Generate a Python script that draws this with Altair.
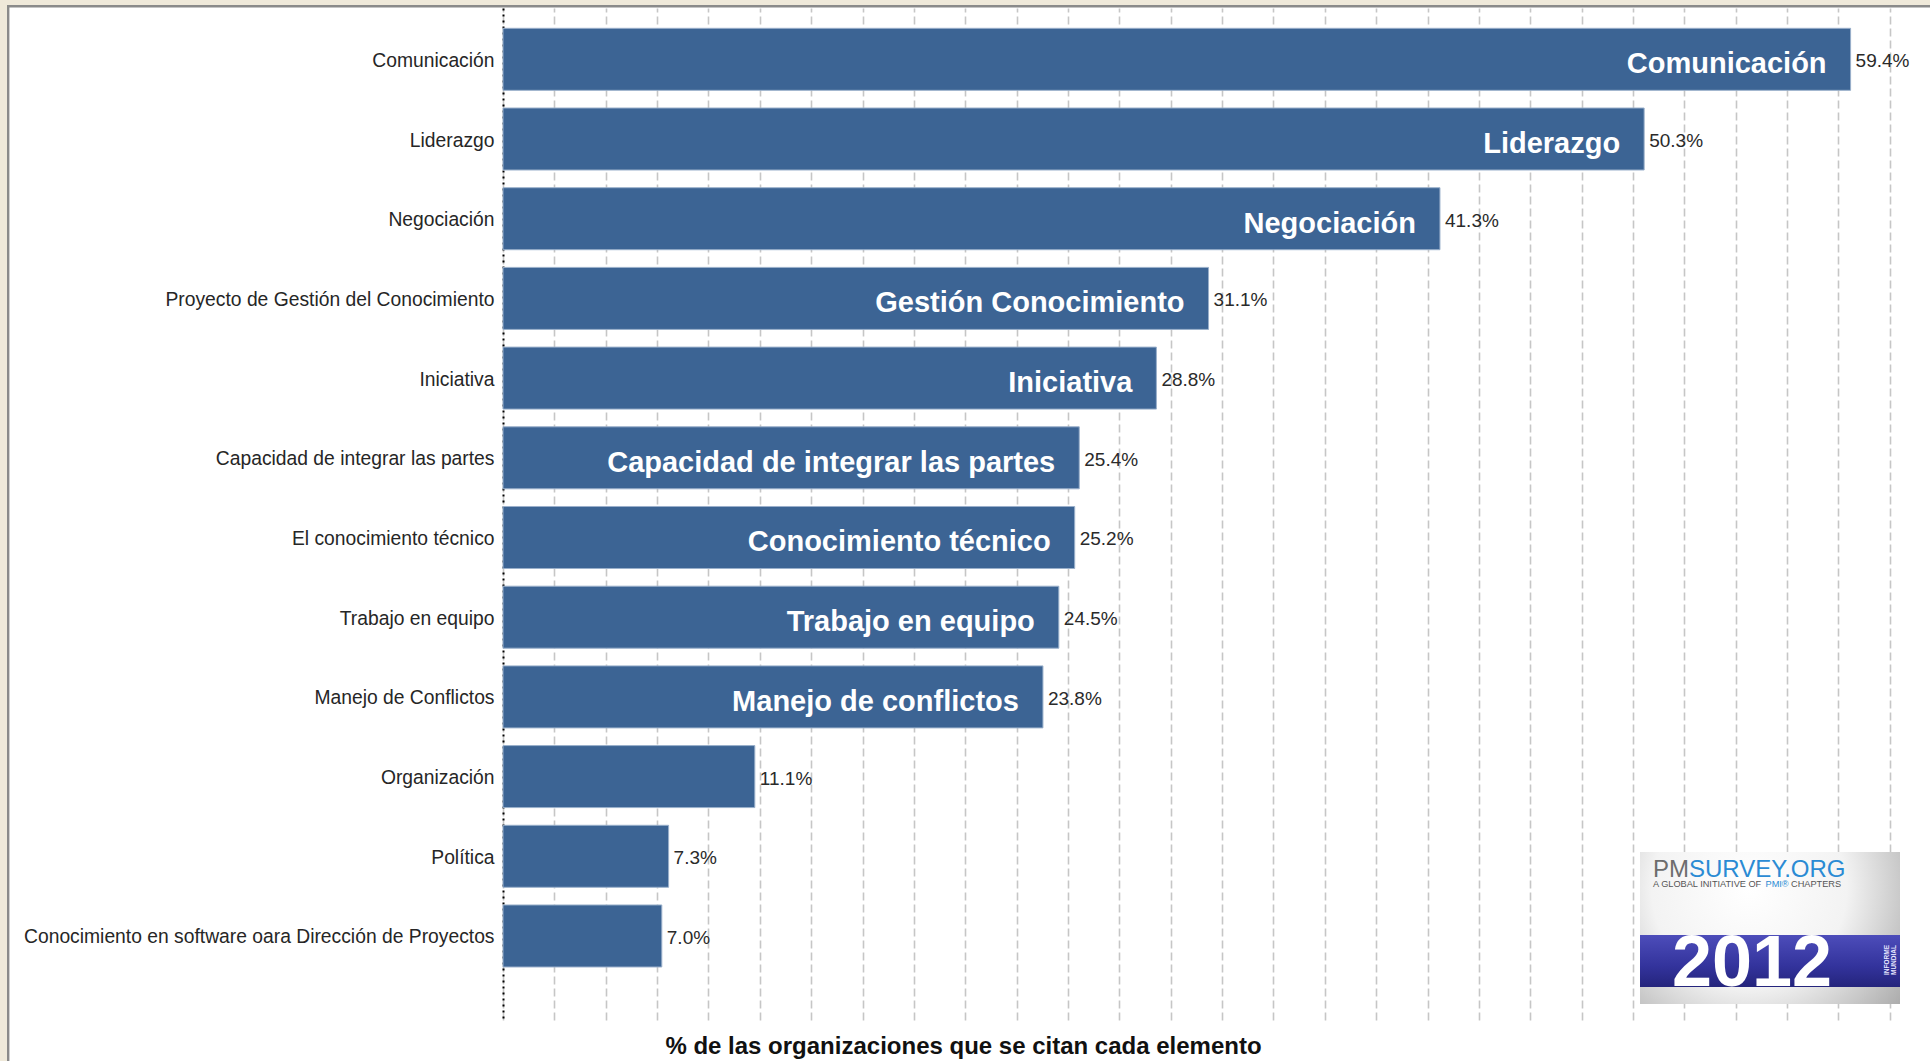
import altair as alt
import pandas as pd

# ---------------- data ----------------
categories = [
    "Comunicación",
    "Liderazgo",
    "Negociación",
    "Proyecto de Gestión del Conocimiento",
    "Iniciativa",
    "Capacidad de integrar las partes",
    "El conocimiento técnico",
    "Trabajo en equipo",
    "Manejo de Conflictos",
    "Organización",
    "Política",
    "Conocimiento en software oara Dirección de Proyectos",
]
values = [59.4, 50.3, 41.3, 31.1, 28.8, 25.4, 25.2, 24.5, 23.8, 11.1, 7.3, 7.0]
inner_labels = [
    "Comunicación",
    "Liderazgo",
    "Negociación",
    "Gestión Conocimiento",
    "Iniciativa",
    "Capacidad de integrar las partes",
    "Conocimiento técnico",
    "Trabajo en equipo",
    "Manejo de conflictos",
    "",
    "",
    "",
]
value_labels = ["59.4%", "50.3%", "41.3%", "31.1%", "28.8%", "25.4%",
                "25.2%", "24.5%", "23.8%", "11.1%", "7.3%", "7.0%"]
x_title = "% de las organizaciones que se citan cada elemento"

df = pd.DataFrame({"cat": categories, "val": values,
                   "inner": inner_labels, "lab": value_labels})
one = pd.DataFrame({"k": [0]})

# ---------------- styling ----------------
FONT = "Liberation Sans, Arial, sans-serif"
PLOT_W, PLOT_H = 1427, 1012
X_MAX = 62.9
GRID_STEP = 2.264
grid_values = [round(i * GRID_STEP, 3) for i in range(28)]
BAR = "#3c6494"

x_enc = alt.X(
    "val:Q",
    scale=alt.Scale(domain=[0, X_MAX], nice=False, zero=True),
    axis=alt.Axis(
        values=grid_values, labels=False, ticks=False, domain=False,
        grid=True, gridColor="#c6c6c6", gridDash=[8, 4], gridWidth=1.6,
        title=x_title, titleFont=FONT, titleFontSize=24, titleFontWeight="bold",
        titleColor="#111111", titleX=460, titleY=33, titleAlign="center",
        titleBaseline="alphabetic", zindex=0,
    ),
)
y_enc = alt.Y(
    "cat:N", sort=categories,
    scale=alt.Scale(paddingInner=0.222, paddingOuter=0.46, align=0.277),
    axis=alt.Axis(
        title=None, ticks=False, grid=False, domain=True, domainColor="#000000",
        domainDash=[2, 4], domainWidth=2, labelFont=FONT, labelFontSize=19.3,
        labelColor="#262626", labelPadding=9, labelLimit=700, labelOffset=1.5,
        zindex=0,
    ),
)

bars = alt.Chart(df).mark_bar(color=BAR, stroke="#9ab0cb", strokeWidth=1).encode(
    x=x_enc, y=y_enc)

val_text = alt.Chart(df).mark_text(
    align="left", baseline="middle", dx=5, dy=2, font=FONT, fontSize=19,
    color="#2a2a2a").encode(x="val:Q", y=alt.Y("cat:N", sort=categories), text="lab:N")

inner_text = alt.Chart(df).mark_text(
    align="right", baseline="middle", dx=-24, dy=5, font=FONT, fontSize=29,
    fontWeight="bold", color="white").encode(
    x="val:Q", y=alt.Y("cat:N", sort=categories), text="inner:N")

# ---------------- frame decoration ----------------
beige = "#efe9da"
strip_left = alt.Chart(one).mark_rect(color=beige).encode(
    x=alt.value(-503), x2=alt.value(-495.5), y=alt.value(-8), y2=alt.value(1060))
strip_top = alt.Chart(one).mark_rect(color=beige).encode(
    x=alt.value(-503), x2=alt.value(PLOT_W), y=alt.value(-8), y2=alt.value(-3))
border = alt.Chart(one).mark_rect(fill="white", fillOpacity=0, stroke="#8a8a8a",
                                  strokeWidth=2.4).encode(
    x=alt.value(-494.8), x2=alt.value(PLOT_W + 30), y=alt.value(-1.8), y2=alt.value(1100))

# ---------------- logo ----------------
box_fill = {
    "gradient": "radial", "x1": 0.42, "y1": 0.35, "r1": 0.0,
    "x2": 0.42, "y2": 0.35, "r2": 0.75,
    "stops": [{"offset": 0, "color": "#ffffff"}, {"offset": 0.5, "color": "#f3f3f3"},
              {"offset": 1, "color": "#a8a8a8"}],
}
band_fill = {
    "gradient": "linear", "x1": 0, "y1": 0, "x2": 0, "y2": 1,
    "stops": [{"offset": 0, "color": "#4d4dba"}, {"offset": 0.6, "color": "#33339c"},
              {"offset": 1, "color": "#24247c"}],
}
logo_box = alt.Chart(one).mark_rect(fill=box_fill).encode(
    x=alt.value(1137), x2=alt.value(1397), y=alt.value(844), y2=alt.value(996))
logo_band = alt.Chart(one).mark_rect(fill=band_fill).encode(
    x=alt.value(1137), x2=alt.value(1397), y=alt.value(927), y2=alt.value(979))
logo_year = alt.Chart(one).mark_text(
    text="2012", font=FONT, fontSize=72, fontWeight="bold", color="white",
    align="center", baseline="alphabetic").encode(x=alt.value(1249), y=alt.value(978))
logo_pm = alt.Chart(one).mark_text(
    text="PM", font=FONT, fontSize=24, color="#6d6d6d", align="left",
    baseline="alphabetic").encode(x=alt.value(1150), y=alt.value(869))
logo_survey = alt.Chart(one).mark_text(
    text="SURVEY.ORG", font=FONT, fontSize=24, color="#2a8bd4", align="left",
    baseline="alphabetic").encode(x=alt.value(1186), y=alt.value(869))
logo_tag1 = alt.Chart(one).mark_text(
    text="A GLOBAL INITIATIVE OF", font=FONT, fontSize=9.2, color="#555555",
    align="left", baseline="alphabetic").encode(x=alt.value(1150), y=alt.value(879))
logo_tag2 = alt.Chart(one).mark_text(
    text="PMI®", font=FONT, fontSize=9.2, color="#2a8bd4",
    align="left", baseline="alphabetic").encode(x=alt.value(1262.5), y=alt.value(879))
logo_tag3 = alt.Chart(one).mark_text(
    text="CHAPTERS", font=FONT, fontSize=9.2, color="#555555",
    align="left", baseline="alphabetic").encode(x=alt.value(1288), y=alt.value(879))
logo_inf = alt.Chart(one).mark_text(
    text="INFORME", font=FONT, fontSize=6.5, fontWeight="bold", color="#e8e8ff",
    align="center", baseline="middle", angle=270).encode(x=alt.value(1384), y=alt.value(952))
logo_mun = alt.Chart(one).mark_text(
    text="MUNDIAL", font=FONT, fontSize=6.5, fontWeight="bold", color="#e8e8ff",
    align="center", baseline="middle", angle=270).encode(x=alt.value(1391), y=alt.value(952))

chart = alt.layer(
    bars, val_text, inner_text,
    strip_left, strip_top, border,
    logo_box, logo_band, logo_year, logo_pm, logo_survey,
    logo_tag1, logo_tag2, logo_tag3, logo_inf, logo_mun,
).properties(
    width=PLOT_W, height=PLOT_H,
    autosize=alt.AutoSizeParams(type="none"),
    padding={"left": 503, "top": 8, "right": 0, "bottom": 41},
    background="white",
).configure_view(strokeWidth=0)

chart.save("out.html", embed_options={"renderer": "svg", "actions": False})
